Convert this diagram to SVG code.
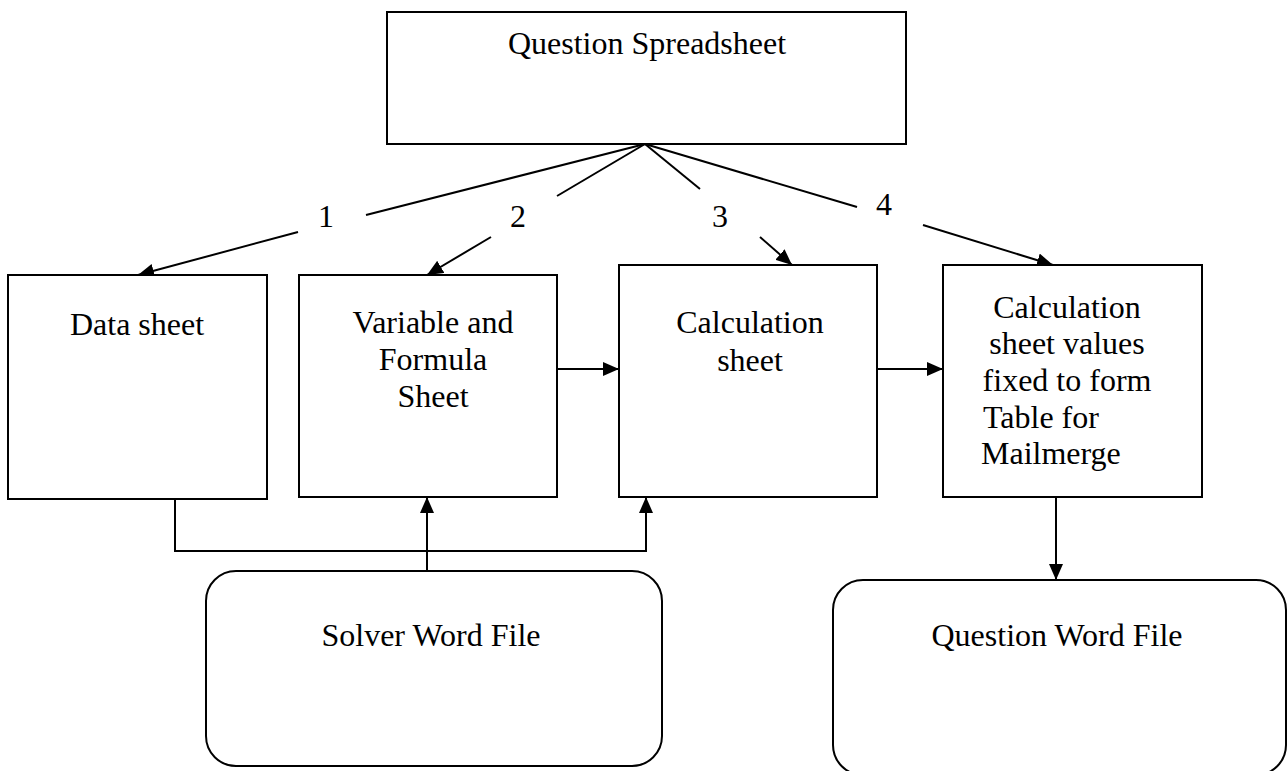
<svg xmlns="http://www.w3.org/2000/svg" width="1287" height="771" viewBox="0 0 1287 771">
<style>
.box{fill:#fff;stroke:#000;stroke-width:2}
.ln{fill:none;stroke:#000;stroke-width:2}
.t{font-family:"Liberation Serif","Times New Roman",serif;font-size:32px;fill:#000}
.c{text-anchor:middle}
</style>
<defs>
<marker id="ah" markerUnits="userSpaceOnUse" markerWidth="16" markerHeight="14" viewBox="0 0 16 14" refX="16" refY="7" orient="auto">
<path d="M0,0 L16,7 L0,14 Z" fill="#000"/>
</marker>
</defs>
<rect width="1287" height="771" fill="#fff"/>
<g id="connectors">
<line class="ln" x1="645" y1="144" x2="366" y2="215"/>
<line class="ln" x1="298" y1="232" x2="138" y2="275" marker-end="url(#ah)"/>
<line class="ln" x1="645" y1="144" x2="557" y2="196"/>
<line class="ln" x1="491" y1="237" x2="427" y2="275" marker-end="url(#ah)"/>
<line class="ln" x1="645" y1="144" x2="700" y2="189"/>
<line class="ln" x1="760" y1="237" x2="792" y2="265" marker-end="url(#ah)"/>
<line class="ln" x1="645" y1="144" x2="857" y2="207"/>
<line class="ln" x1="923" y1="225" x2="1053" y2="265" marker-end="url(#ah)"/>
<line class="ln" x1="557" y1="369" x2="619" y2="369" marker-end="url(#ah)"/>
<line class="ln" x1="877" y1="369" x2="943" y2="369" marker-end="url(#ah)"/>
<polyline class="ln" points="175,499 175,551 646,551 646,497" marker-end="url(#ah)"/>
<line class="ln" x1="427" y1="571" x2="427" y2="497" marker-end="url(#ah)"/>
<line class="ln" x1="1056" y1="497" x2="1056" y2="580" marker-end="url(#ah)"/>
<text class="t c" x="326" y="227">1</text>
<text class="t c" x="518" y="227">2</text>
<text class="t c" x="720" y="227">3</text>
<text class="t c" x="884" y="215">4</text>
</g>
<g id="question-spreadsheet">
<rect class="box" x="387" y="12" width="519" height="132"/>
<text class="t c" x="647" y="54">Question Spreadsheet</text>
</g>
<g id="data-sheet">
<rect class="box" x="8" y="275" width="259" height="224"/>
<text class="t c" x="137" y="335">Data sheet</text>
</g>
<g id="variable-formula-sheet">
<rect class="box" x="299" y="275" width="258" height="222"/>
<text class="t c" x="433" y="333">Variable and</text>
<text class="t c" x="433" y="370">Formula</text>
<text class="t c" x="433" y="407">Sheet</text>
</g>
<g id="calculation-sheet">
<rect class="box" x="619" y="265" width="258" height="232"/>
<text class="t c" x="750" y="333">Calculation</text>
<text class="t c" x="750" y="371">sheet</text>
</g>
<g id="mailmerge-table">
<rect class="box" x="943" y="265" width="259" height="232"/>
<text class="t c" x="1067" y="318">Calculation</text>
<text class="t c" x="1067" y="354">sheet values</text>
<text class="t c" x="1067" y="391">fixed to form</text>
<text class="t" x="983" y="428">Table for</text>
<text class="t" x="981" y="464">Mailmerge</text>
</g>
<g id="solver-word-file">
<rect class="box" x="206" y="571" width="456" height="195" rx="30" ry="30"/>
<text class="t c" x="431" y="646">Solver Word File</text>
</g>
<g id="question-word-file">
<rect class="box" x="833" y="580" width="453" height="195" rx="30" ry="30"/>
<text class="t c" x="1057" y="646">Question Word File</text>
</g>
</svg>
